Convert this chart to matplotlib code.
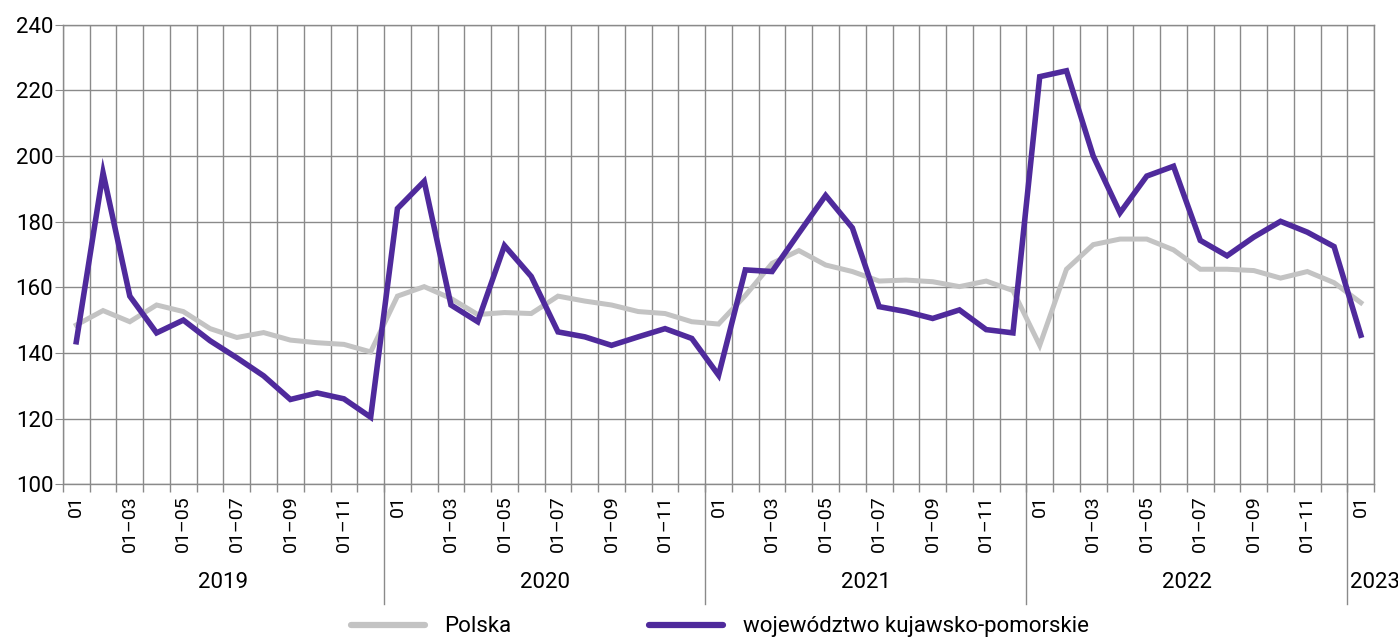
import numpy as np
import matplotlib
matplotlib.use("Agg")
import matplotlib.pyplot as plt
import matplotlib.ticker as ticker

plt.rcParams['font.family'] = ['Roboto', 'DejaVu Sans']

# months 2019-01 .. 2023-01
years = ['2019', '2020', '2021', '2022', '2023']
month_labels = ['01', '', '01–03', '', '01–05', '', '01–07', '', '01–09', '', '01–11', '']

polska = [148.5, 152.9, 149.5, 154.6, 152.6, 147.4, 144.7, 146.2, 143.9, 143.1, 142.6, 140.3,
          157.3, 160.2, 156.6, 151.7, 152.3, 152.0, 157.3, 155.8, 154.6, 152.6, 152.0, 149.5,
          148.8, 157.5, 167.3, 171.2, 166.8, 164.8, 161.9, 162.2, 161.7, 160.2, 161.9, 159.0,
          142.3, 165.5, 173.0, 174.7, 174.7, 171.4, 165.5, 165.5, 165.1, 162.8, 164.8, 161.4,
          155.3]
kujawsko = [143.4, 194.9, 157.3, 146.1, 150.0, 143.7, 138.5, 133.0, 125.8, 127.8, 126.0, 120.4,
            184.0, 192.3, 154.6, 149.5, 172.7, 163.3, 146.4, 144.9, 142.3, 144.9, 147.4, 144.4,
            133.2, 165.3, 164.8, 176.5, 188.0, 178.1, 154.1, 152.6, 150.5, 153.1, 147.1, 146.1,
            224.2, 226.0, 200.0, 182.7, 193.9, 196.9, 174.3, 169.6, 175.3, 180.1, 176.8, 172.4,
            145.4]

n = len(polska)
x = np.arange(n)
labels = [month_labels[i % 12] for i in range(n)]

grid_c = '#8a8a8a'
fig = plt.figure(figsize=(13.98, 6.37), dpi=100)
ax = fig.add_axes([0.045, 0.240, 0.938, 0.721])

ax.plot(x, polska, color='#c3c3c3', lw=3.6, solid_joinstyle='miter', label='Polska', zorder=3)
ax.plot(x, kujawsko, color='#4f2a9c', lw=4.0, solid_joinstyle='miter',
        label='województwo kujawsko-pomorskie', zorder=4)

ax.set_xlim(-0.5, n - 0.5)
ax.set_ylim(100, 240)
ax.yaxis.set_major_locator(ticker.MultipleLocator(20))
ax.set_xticks(x)
ax.set_xticklabels(labels, rotation=90, fontsize=14, va='top')
ax.set_xticks(np.arange(-0.5, n), minor=True)
ax.tick_params(axis='x', which='major', length=0, pad=8)
ax.tick_params(axis='x', which='minor', length=6, color=grid_c, width=1)
ax.tick_params(axis='y', length=6, color=grid_c, labelsize=16, pad=1)
ax.grid(True, which='minor', axis='x', color=grid_c, lw=1)
ax.grid(True, which='major', axis='y', color=grid_c, lw=1)
ax.grid(False, which='major', axis='x')
for s in ax.spines.values():
    s.set_color(grid_c)
    s.set_linewidth(1)

# year groups
for k, yr in enumerate(years):
    start = k * 12 - 0.5
    if k > 0:
        ax.plot([start, start], [0, -0.26], transform=ax.get_xaxis_transform(),
                color=grid_c, lw=1, clip_on=False)
    if yr == '2023':
        ax.text(start + 0.1, -0.215, yr, transform=ax.get_xaxis_transform(),
                ha='left', va='center', fontsize=16)
    else:
        ax.text(start + 6, -0.215, yr, transform=ax.get_xaxis_transform(),
                ha='center', va='center', fontsize=16)

leg = fig.legend(loc='lower center', bbox_to_anchor=(0.515, -0.032), ncol=2, frameon=False,
                 fontsize=16, handlelength=3.3, columnspacing=6.2, handletextpad=0.9)
for h in leg.get_lines():
    h.set_solid_capstyle('round')
    h.set_linewidth(4.5)

fig.savefig('out.png', dpi=100)
